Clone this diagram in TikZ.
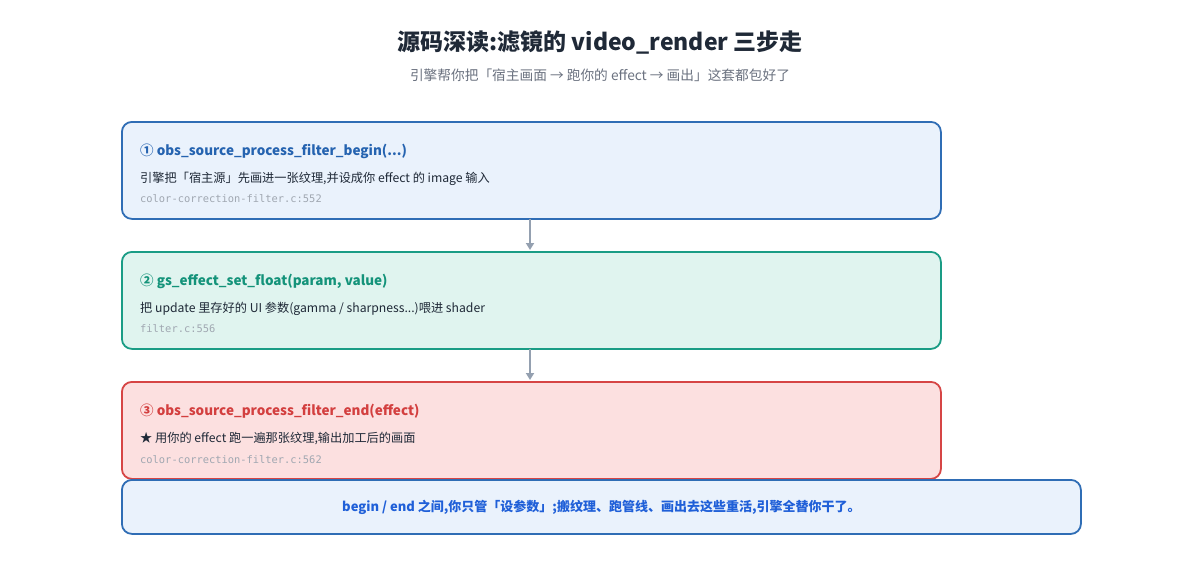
\documentclass[tikz,border=0pt]{standalone}
\usepackage{fontspec}
\setmainfont{Noto Sans CJK SC}
\newfontfamily\monof{DejaVu Sans Mono}
\usetikzlibrary{arrows.meta}
\definecolor{titlec}{HTML}{1F2937}
\definecolor{subc}{HTML}{6B7280}
\definecolor{bodyc}{HTML}{1F2937}
\definecolor{monoc}{HTML}{A0A7B1}
\definecolor{blueb}{HTML}{2F6DB5}
\definecolor{bluef}{HTML}{EAF2FC}
\definecolor{blueh}{HTML}{2563B0}
\definecolor{tealb}{HTML}{1A9C85}
\definecolor{tealf}{HTML}{E0F4EF}
\definecolor{tealh}{HTML}{14937A}
\definecolor{redb}{HTML}{D64545}
\definecolor{redf}{HTML}{FCE0E0}
\definecolor{redh}{HTML}{D33F3F}
\definecolor{arrowc}{HTML}{94A0B0}
\definecolor{botc}{HTML}{1F5FD8}
\tikzset{
  stepbox/.style={draw, line width=1.8pt, rounded corners=10pt, minimum width=819pt, minimum height=97pt, anchor=north west, inner sep=0pt},
  headt/.style={anchor=west, inner sep=0pt, font=\fontsize{13.5}{16}\selectfont\bfseries},
  bodyt/.style={anchor=west, inner sep=0pt, text=bodyc, font=\fontsize{12.2}{14}\selectfont},
  monot/.style={anchor=west, inner sep=0pt, text=monoc, font=\monof\fontsize{10.4}{12}\selectfont},
  flow/.style={draw=arrowc, line width=2.4pt, -{Triangle[length=7pt,width=8pt]}}
}
\begin{document}
\begin{tikzpicture}[x=1pt,y=-1pt]
\useasboundingbox[fill=white] (0,0) rectangle (1200,560);
\node[inner sep=0pt, text=titlec, font=\fontsize{23}{27}\selectfont\bfseries] (title) at (600,42) {源码深读:滤镜的 video\_render 三步走};
\node[inner sep=0pt, text=subc, font=\fontsize{13.7}{16}\selectfont] (sub) at (600,75) {引擎帮你把「宿主画面 → 跑你的 effect → 画出」这套都包好了};

\node[stepbox, draw=blueb, fill=bluef] (b1) at (121,121) {};
\node[headt, text=blueh] (h1) at (140,151) {① obs\_source\_process\_filter\_begin(...)};
\node[bodyt] (t1) at (140,179) {引擎把「宿主源」先画进一张纹理,并设成你 effect 的 image 输入};
\node[monot] (m1) at (140,199) {color-correction-filter.c:552};

\node[stepbox, draw=tealb, fill=tealf] (b2) at (121,251) {};
\node[headt, text=tealh] (h2) at (140,281) {② gs\_effect\_set\_float(param, value)};
\node[bodyt] (t2) at (140,309) {把 update 里存好的 UI 参数(gamma / sharpness...)喂进 shader};
\node[monot] (m2) at (140,329) {filter.c:556};

\node[stepbox, draw=redb, fill=redf] (b3) at (121,381) {};
\node[headt, text=redh] (h3) at (140,411) {③ obs\_source\_process\_filter\_end(effect)};
\node[bodyt] (t3) at (140,439) {★ 用你的 effect 跑一遍那张纹理,输出加工后的画面};
\node[monot] (m3) at (140,460) {color-correction-filter.c:562};

\node[draw=blueb, fill=bluef, line width=1.8pt, rounded corners=10pt, minimum width=959pt, minimum height=54pt, anchor=north west, inner sep=0pt] (bot) at (121,479) {};
\node[inner sep=0pt, text=botc, font=\fontsize{13}{15}\selectfont\bfseries] (bt) at (bot.center) {begin / end 之间,你只管「设参数」;搬纹理、跑管线、画出去这些重活,引擎全替你干了。};

\coordinate (a1s) at (530,219);
\coordinate (a1e) at (530,250);
\coordinate (a2s) at (530,349);
\coordinate (a2e) at (530,380);
\draw[flow] (a1s) -- (a1e);
\draw[flow] (a2s) -- (a2e);
\end{tikzpicture}
\end{document}
